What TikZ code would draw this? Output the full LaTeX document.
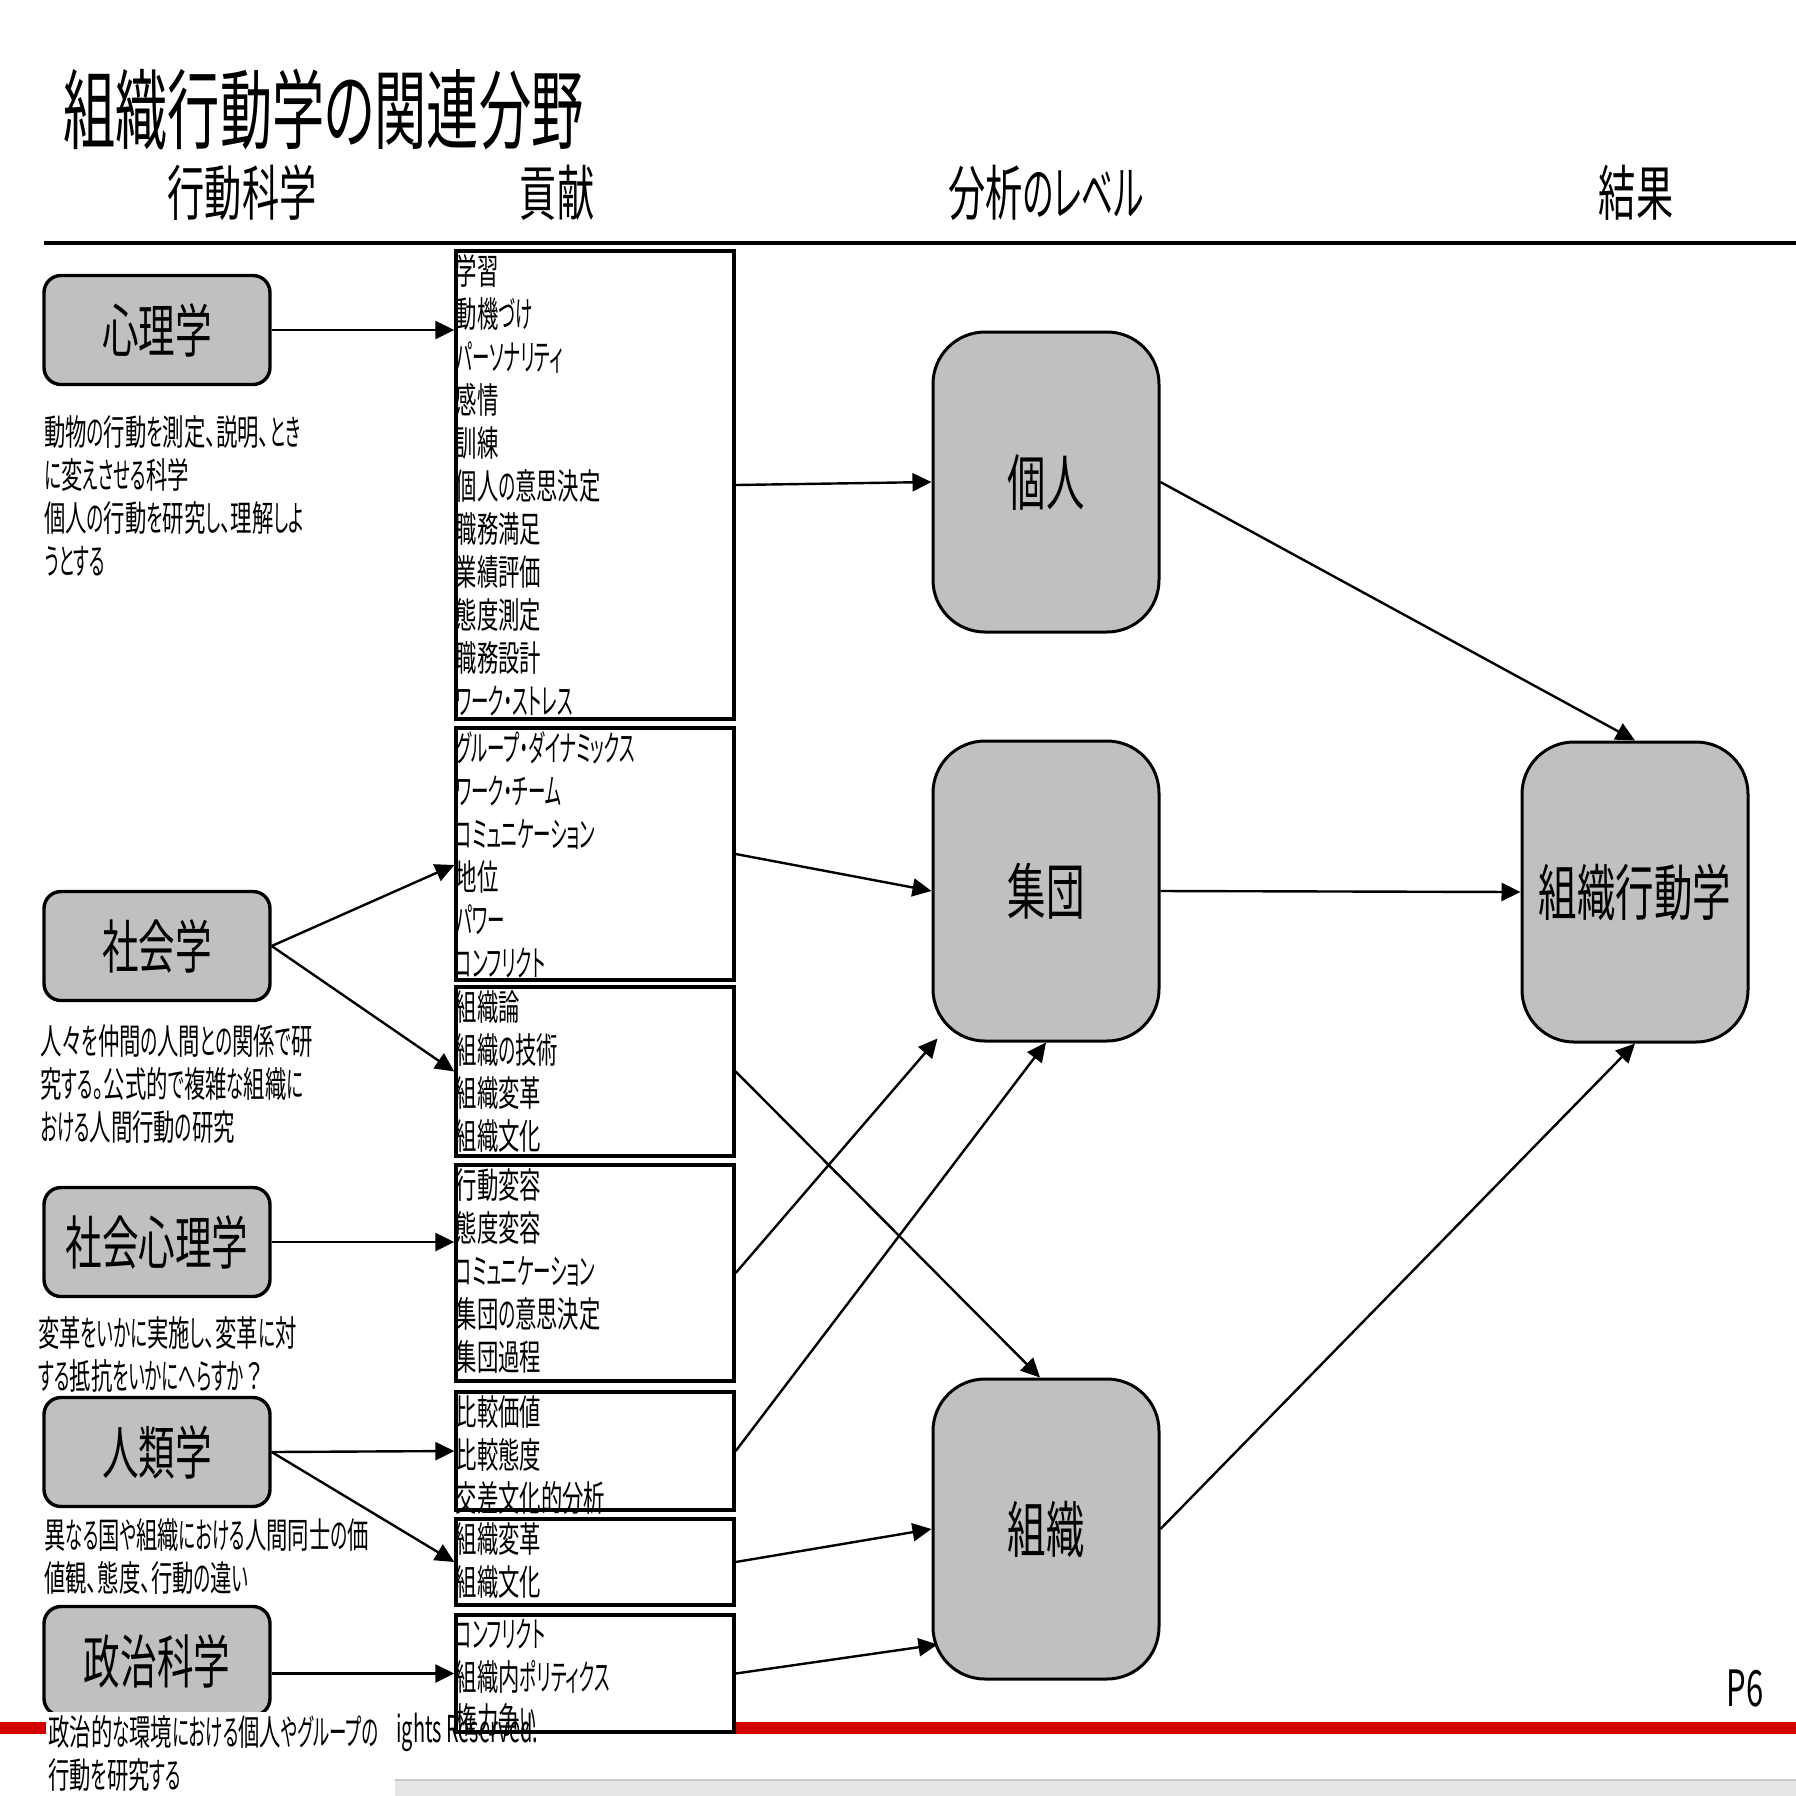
\documentclass[tikz,border=0pt]{standalone}
\usepackage{fontspec}
\usetikzlibrary{arrows.meta}
\newfontfamily\jpT[FakeStretch=0.6,RawFeature=+palt]{Noto Sans CJK JP}
\newfontfamily\jpH[FakeStretch=0.62]{Noto Sans CJK JP}
\newfontfamily\jpHK[FakeStretch=0.53,RawFeature=+palt]{Noto Sans CJK JP}
\newfontfamily\jpB[FakeStretch=0.63]{Noto Sans CJK JP}
\newfontfamily\jpD[FakeStretch=0.6,RawFeature=+palt]{Noto Sans CJK JP}
\newfontfamily\jpK[FakeStretch=0.49,RawFeature=+palt]{Noto Sans CJK JP}
\newfontfamily\jpL[FakeStretch=0.54]{Noto Sans CJK JP}
\newcommand\kanarun[1]{{\jpK #1}}
\definecolor{boxgray}{HTML}{C0C0C0}
\definecolor{redline}{HTML}{D40000}
\definecolor{stripgray}{HTML}{E6E6E6}
\definecolor{stripline}{HTML}{C8C8C8}
\begin{document}
\begin{tikzpicture}[x=0.5pt,y=-0.5pt,
  lbox/.style={draw, line width=1.7pt, fill=boxgray, rounded corners=8.5pt, minimum width=113pt, minimum height=54.5pt, inner sep=0pt, font=\jpB\fontsize{29pt}{34pt}\selectfont},
  bbox/.style={draw, line width=1.5pt, fill=boxgray, rounded corners=26pt, minimum width=113pt, minimum height=150pt, inner sep=0pt, font=\jpB\fontsize{30.5pt}{36pt}\selectfont},
  mbox/.style={draw, line width=1.7pt, fill=white, minimum width=139pt, inner sep=0pt},
  items/.style={anchor=north west, inner sep=0pt, align=left, font=\jpD\fontsize{17.8pt}{21.5pt}\selectfont},
  desc/.style={anchor=north west, inner sep=0pt, align=left, font=\jpD\fontsize{17.8pt}{21.5pt}\selectfont},
  head/.style={font=\jpH\fontsize{30pt}{36pt}\selectfont, inner sep=0pt},
  arr/.style={-{Triangle[length=9.5pt,width=9pt]}, line width=1.2pt}
]
\useasboundingbox (0,0) rectangle (1796,1796);
\fill[white] (0,0) rectangle (1796,1796);

% footer decorations
\fill[redline] (0,1722) rectangle (46,1734);
\fill[redline] (734,1722) rectangle (1796,1734);
\fill[stripgray] (395,1780) rectangle (1796,1796);
\draw[stripline, line width=0.6pt] (395,1780) -- (1796,1780);

% title and headings
\node[anchor=west, inner sep=0pt, font=\jpT\fontsize{43.5pt}{50pt}\selectfont] (title) at (63,110) {組織行動学の関連分野};
\node[head] (h1) at (242,193) {行動科学};
\node[head] (h2) at (557,193) {貢献};
\node[head] (h3) at (1046,193) {分析{\jpHK のレベル}};
\node[head] (h4) at (1636,193) {結果};
\draw[line width=1.7pt] (44,243) -- (1796,243);

% left boxes
\node[lbox] (psy) at (157,330) {心理学};
\node[lbox] (soc) at (157,946) {社会学};
\node[lbox] (socpsy) at (157,1242) {社会心理学};
\node[lbox] (anth) at (157,1452) {人類学};
\node[lbox] (pol) at (157,1661) {政治科学};

% descriptions
\node[desc] (d1) at (44,415) {動物\kanarun{の}行動\kanarun{を}測定、説明、\kanarun{とき}\\\kanarun{に}変\kanarun{えさせる}科学\\個人\kanarun{の}行動\kanarun{を}研究\kanarun{し}、理解\kanarun{しよ}\\\kanarun{うとする}};
\node[desc] (d2) at (40,1024) {人々\kanarun{を}仲間\kanarun{の}人間\kanarun{との}関係\kanarun{で}研\\究\kanarun{する}。公式的\kanarun{で}複雑\kanarun{な}組織\kanarun{に}\\\kanarun{おける}人間行動\kanarun{の}研究};
\node[desc] (d3) at (38,1316) {変革\kanarun{をいかに}実施\kanarun{し}、変革\kanarun{に}対\\\kanarun{する}抵抗\kanarun{をいかにへらすか}{\jpH ？}};
\node[desc] (d4) at (44,1518) {異\kanarun{なる}国\kanarun{や}組織\kanarun{における}人間同士\kanarun{の}価\\値観、態度、行動\kanarun{の}違\kanarun{い}};

% middle boxes
\node[mbox, minimum height=234pt] (b1) at (595,485) {};
\node[mbox, minimum height=126pt] (b2) at (595,854) {};
\node[mbox, minimum height=84.5pt] (b3) at (595,1071.5) {};
\node[mbox, minimum height=108pt] (b4) at (595,1273) {};
\node[mbox, minimum height=59pt] (b5) at (595,1451) {};
\node[mbox, minimum height=43pt] (b6) at (595,1562) {};
\node[mbox, minimum height=58.5pt] (b7) at (595,1673.5) {};

\node[items] (t1) at ([xshift=0.5pt,yshift=-2.5pt]b1.north west) {学習\\動機\kanarun{づけ}\\\kanarun{パーソナリティ}\\感情\\訓練\\個人\kanarun{の}意思決定\\職務満足\\業績評価\\態度測定\\職務設計\\\kanarun{ワーク・ストレス}};
\node[items] (t2) at ([xshift=0.5pt,yshift=-2.5pt]b2.north west) {\kanarun{グループ・ダイナミックス}\\\kanarun{ワーク・チーム}\\\kanarun{コミュニケーション}\\地位\\\kanarun{パワー}\\\kanarun{コンフリクト}};
\node[items] (t3) at ([xshift=0.5pt,yshift=-2.5pt]b3.north west) {組織論\\組織\kanarun{の}技術\\組織変革\\組織文化};
\node[items] (t4) at ([xshift=0.5pt,yshift=-2.5pt]b4.north west) {行動変容\\態度変容\\\kanarun{コミュニケーション}\\集団\kanarun{の}意思決定\\集団過程};
\node[items] (t5) at ([xshift=0.5pt,yshift=-2.5pt]b5.north west) {比較価値\\比較態度\\交差文化的分析};
\node[items] (t6) at ([xshift=0.5pt,yshift=-2.5pt]b6.north west) {組織変革\\組織文化};
\node[items] (t7) at ([xshift=0.5pt,yshift=-2.5pt]b7.north west) {\kanarun{コンフリクト}\\組織内\kanarun{ポリティクス}\\権力争\kanarun{い}};

% level boxes
\node[bbox] (ind) at (1046,482) {個人};
\node[bbox] (grp) at (1046,891) {集団};
\node[bbox] (org) at (1046,1529) {組織};
\node[bbox] (ob) at (1635,892) {組織行動学};

% connectors
\draw[arr] (psy.east) -- (b1.west |- psy.east);
\draw[arr] (b1.east) -- (ind.west);
\draw[arr] (soc.east) -- ([yshift=-5.5pt]b2.west);
\draw[arr] (soc.east) -- (b3.west);
\draw[arr] (socpsy.east) -- (b4.west |- socpsy.east);
\draw[arr] (anth.east) -- (b5.west);
\draw[arr] (anth.east) -- (b6.west);
\draw[arr] (pol.east |- b7.west) -- (b7.west);
\draw[arr] (b2.east) -- (grp.west);
\draw[arr] (b3.east) -- ([xshift=-3pt]org.north);
\draw[arr] (b4.east) -- ([shift={(3pt,2pt)}]grp.south west);
\draw[arr] (b5.east) -- (grp.south);
\draw[arr] (b6.east) -- (org.west);
\draw[arr] (b7.east) -- ([shift={(3pt,18pt)}]org.south west);
\draw[arr] (ind.east) -- (ob.north);
\draw[arr] (grp.east) -- (ob.west);
\draw[arr] (org.east) -- (ob.south);

% bottom description with white background
\fill[white] (46,1712) rectangle (395,1796);
\node[desc] (d5) at (48,1715) {政治的\kanarun{な}環境\kanarun{における}個人\kanarun{やグループの}\\行動\kanarun{を}研究\kanarun{する}};
\node[anchor=base west, inner sep=0pt, font=\jpL\fontsize{18.5pt}{21.5pt}\selectfont] (rights) at (396,1742) {ights Reserved.};

% page number
\node[inner sep=0pt, font=\jpH\fontsize{25pt}{30pt}\selectfont] (pnum) at (1745,1688) {P6};
\end{tikzpicture}
\end{document}
